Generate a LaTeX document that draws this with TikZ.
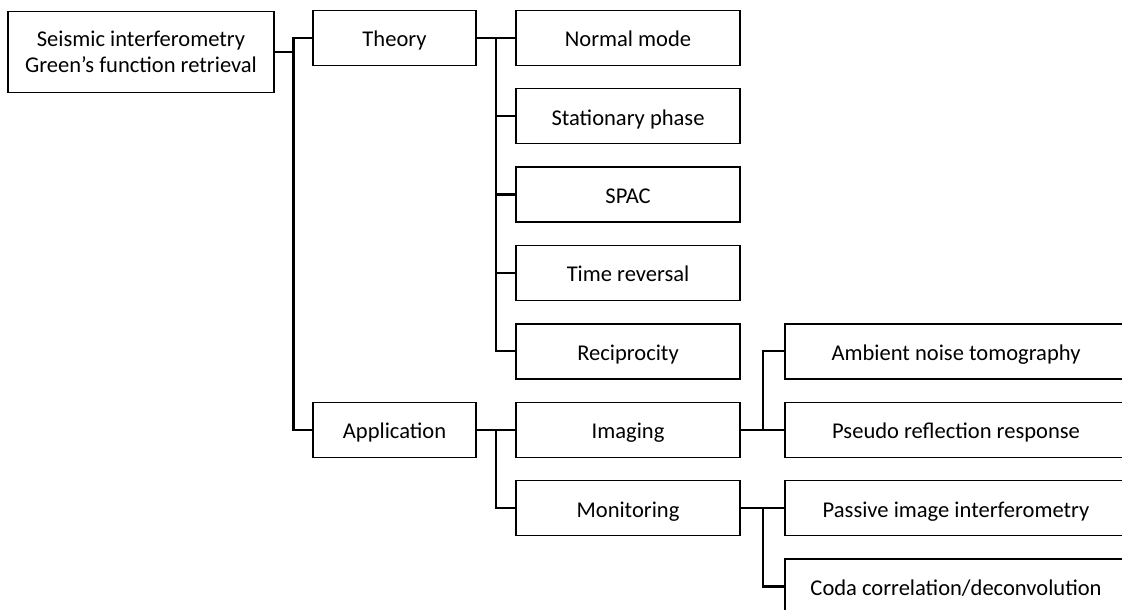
\documentclass[tikz,border=0pt]{standalone}
\usepackage{fontspec}
\setmainfont{Carlito}
\usetikzlibrary{positioning}

\begin{document}
\begin{tikzpicture}[node distance=58.8pt,
    box/.style={draw, line width=1pt, inner sep=0pt, outer sep=0pt, minimum height=41.25pt, align=center, font=\fontsize{16.9}{19.5}\selectfont},
    leaf/.style={box, text height=16.5pt, text depth=3pt},
    link/.style={line width=1.6pt}]
\useasboundingbox (0,0) rectangle (841.5pt,-457.5pt);
\clip (0,0) rectangle (841.5pt,-457.5pt);

% first and second level
\node[box, minimum width=199.5pt, minimum height=60.75pt] (root) at (105.75pt,-39pt) {Seismic interferometry\\Green's function retrieval};
\node[leaf, minimum width=122.25pt] (theory) at (295.9pt,-28.3pt) {Theory};
\node[leaf, minimum width=122.25pt, below of=theory, node distance=294pt] (appl) {Application};

% theory branch
\node[leaf, minimum width=168pt, right=30pt of theory] (normal) {Normal mode};
\node[leaf, minimum width=168pt, below of=normal] (stat) {Stationary phase};
\node[leaf, minimum width=168pt, below of=stat] (spac) {SPAC};
\node[leaf, minimum width=168pt, below of=spac] (trev) {Time reversal};
\node[leaf, minimum width=168pt, below of=trev] (recip) {Reciprocity};

% application branch
\node[leaf, minimum width=168pt, right=30pt of appl] (imaging) {Imaging};
\node[leaf, minimum width=168pt, below of=imaging] (monitor) {Monitoring};
\node[leaf, minimum width=256.5pt, right=33.75pt of recip] (ambient) {Ambient noise tomography};
\node[leaf, minimum width=256.5pt, right=33.75pt of imaging] (pseudo) {Pseudo reflection response};
\node[leaf, minimum width=256.5pt, right=33.75pt of monitor] (passive) {Passive image interferometry};
\node[leaf, minimum width=256.5pt, below of=passive] (coda) {Coda correlation/deconvolution};

\draw[link] (root.east) -- ++(14.6pt,0) |- (theory.west);
\draw[link] (root.east) -- ++(14.6pt,0) |- (appl.west);

\draw[link] (theory.east) -- ++(15pt,0) |- (normal.west);
\draw[link] (theory.east) -- ++(15pt,0) |- (stat.west);
\draw[link] (theory.east) -- ++(15pt,0) |- (spac.west);
\draw[link] (theory.east) -- ++(15pt,0) |- (trev.west);
\draw[link] (theory.east) -- ++(15pt,0) |- (recip.west);

\draw[link] (appl.east) -- ++(15pt,0) |- (imaging.west);
\draw[link] (appl.east) -- ++(15pt,0) |- (monitor.west);

\draw[link] (imaging.east) -- ++(17.25pt,0) |- (ambient.west);
\draw[link] (imaging.east) -- ++(17.25pt,0) |- (pseudo.west);
\draw[link] (monitor.east) -- ++(17.25pt,0) |- (passive.west);
\draw[link] (monitor.east) -- ++(17.25pt,0) |- (coda.west);
\end{tikzpicture}
\end{document}
